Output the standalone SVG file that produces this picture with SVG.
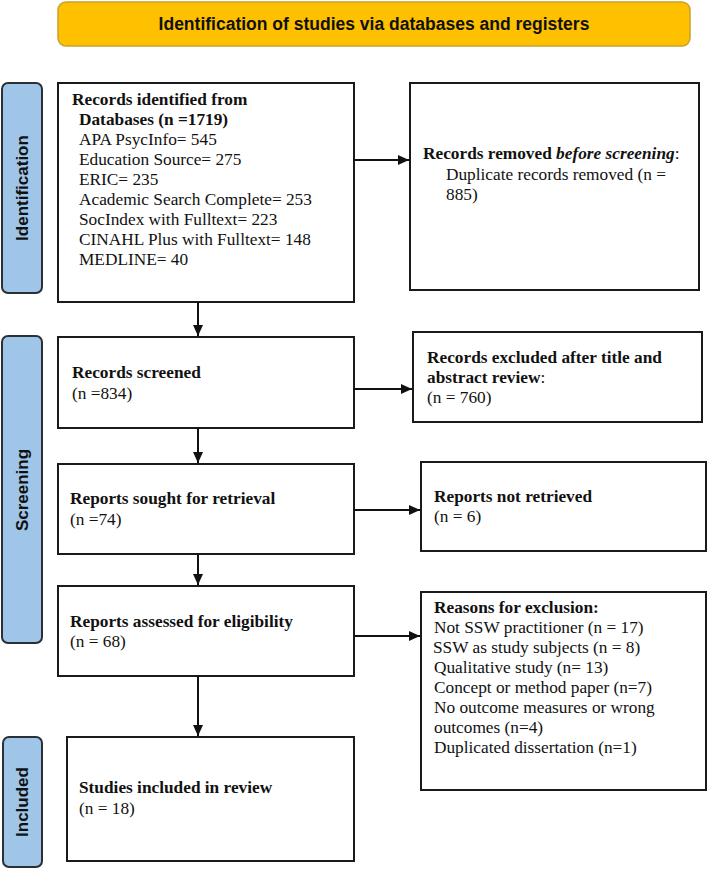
<svg xmlns="http://www.w3.org/2000/svg" width="710" height="869" viewBox="0 0 710 869">
<style>
.box{fill:#fff;stroke:#1a1a1a;stroke-width:2}
.stage{fill:#9fc5e8;stroke:#2b2f36;stroke-width:2}
.stxt{font-family:"Liberation Sans",Arial,sans-serif;font-weight:bold;font-size:17px;fill:#111;text-anchor:middle}
.t{font-family:"Liberation Serif","Times New Roman",serif;font-size:17.3px;fill:#111}
.b{font-weight:bold}
.conn{stroke:#111;stroke-width:2;fill:none}
</style>
<defs>
<marker id="ah" markerUnits="userSpaceOnUse" markerWidth="11" markerHeight="10" refX="11" refY="5" orient="auto">
<path d="M0,0 L11,5 L0,10 z" fill="#111"/>
</marker>
</defs>
<g id="banner">
<rect x="58" y="2" width="632" height="44" rx="8" fill="#ffc000" stroke="#c9a227" stroke-width="1.5"/>
<text x="374" y="30" style="font-family:'Liberation Sans',Arial,sans-serif;font-weight:bold;font-size:17.5px;fill:#111;text-anchor:middle">Identification of studies via databases and registers</text>
</g>
<g id="stage-identification">
<rect class="stage" x="2" y="83" width="40" height="210" rx="6"/>
<text class="stxt" transform="translate(28,188) rotate(-90)">Identification</text>
</g>
<g id="stage-screening">
<rect class="stage" x="2" y="336" width="40" height="307" rx="6"/>
<text class="stxt" transform="translate(28,490) rotate(-90)">Screening</text>
</g>
<g id="stage-included">
<rect class="stage" x="3" y="737" width="39" height="130" rx="6"/>
<text class="stxt" transform="translate(28,802) rotate(-90)">Included</text>
</g>
<g id="records-identified">
<rect class="box" x="58" y="83" width="296" height="219"/>
<text class="t b" x="72" y="105">Records identified from</text>
<text class="t b" x="79" y="125">Databases (n =1719)</text>
<text class="t" x="79" y="145">APA PsycInfo= 545</text>
<text class="t" x="79" y="165">Education Source= 275</text>
<text class="t" x="79" y="185">ERIC= 235</text>
<text class="t" x="79" y="205">Academic Search Complete= 253</text>
<text class="t" x="79" y="225">SocIndex with Fulltext= 223</text>
<text class="t" x="79" y="245">CINAHL Plus with Fulltext= 148</text>
<text class="t" x="79" y="265">MEDLINE= 40</text>
</g>
<g id="records-removed">
<rect class="box" x="410" y="83" width="289" height="207"/>
<text class="t" x="423" y="159"><tspan class="b">Records removed </tspan><tspan class="b" font-style="italic">before screening</tspan>:</text>
<text class="t" x="446" y="180">Duplicate records removed (n =</text>
<text class="t" x="446" y="200">885)</text>
</g>
<g id="records-screened">
<rect class="box" x="58" y="337" width="296" height="91"/>
<text class="t b" x="72" y="378">Records screened</text>
<text class="t" x="72" y="399">(n =834)</text>
</g>
<g id="records-excluded">
<rect class="box" x="413" y="332" width="289" height="90"/>
<text class="t b" x="427" y="363">Records excluded after title and</text>
<text class="t" x="427" y="383"><tspan class="b">abstract review</tspan>:</text>
<text class="t" x="427" y="403">(n = 760)</text>
</g>
<g id="reports-sought">
<rect class="box" x="58" y="464" width="296" height="90"/>
<text class="t b" x="70" y="504">Reports sought for retrieval</text>
<text class="t" x="70" y="525">(n =74)</text>
</g>
<g id="reports-not-retrieved">
<rect class="box" x="421" y="462" width="285" height="89"/>
<text class="t b" x="434" y="502">Reports not retrieved</text>
<text class="t" x="434" y="522">(n = 6)</text>
</g>
<g id="reports-assessed">
<rect class="box" x="58" y="586" width="296" height="90"/>
<text class="t b" x="70" y="627">Reports assessed for eligibility</text>
<text class="t" x="70" y="647">(n = 68)</text>
</g>
<g id="reasons-excluded">
<rect class="box" x="421" y="592" width="285" height="198"/>
<text class="t b" x="434" y="613">Reasons for exclusion:</text>
<text class="t" x="434" y="633">Not SSW practitioner (n = 17)</text>
<text class="t" x="433" y="653">SSW as study subjects (n = 8)</text>
<text class="t" x="434" y="673">Qualitative study (n= 13)</text>
<text class="t" x="434" y="693">Concept or method paper (n=7)</text>
<text class="t" x="434" y="713">No outcome measures or wrong</text>
<text class="t" x="434" y="733">outcomes (n=4)</text>
<text class="t" x="434" y="753">Duplicated dissertation (n=1)</text>
</g>
<g id="studies-included">
<rect class="box" x="67" y="737" width="287" height="124"/>
<text class="t b" x="79" y="793">Studies included in review</text>
<text class="t" x="79" y="814">(n = 18)</text>
</g>
<g id="connectors">
<line class="conn" x1="198" y1="302" x2="198" y2="336" marker-end="url(#ah)"/>
<line class="conn" x1="198" y1="428" x2="198" y2="463" marker-end="url(#ah)"/>
<line class="conn" x1="198" y1="554" x2="198" y2="585" marker-end="url(#ah)"/>
<line class="conn" x1="198" y1="676" x2="198" y2="736" marker-end="url(#ah)"/>
<line class="conn" x1="354" y1="160" x2="409" y2="160" marker-end="url(#ah)"/>
<line class="conn" x1="354" y1="389" x2="412" y2="389" marker-end="url(#ah)"/>
<line class="conn" x1="354" y1="510" x2="420" y2="510" marker-end="url(#ah)"/>
<line class="conn" x1="354" y1="636" x2="420" y2="636" marker-end="url(#ah)"/>
</g>
</svg>
